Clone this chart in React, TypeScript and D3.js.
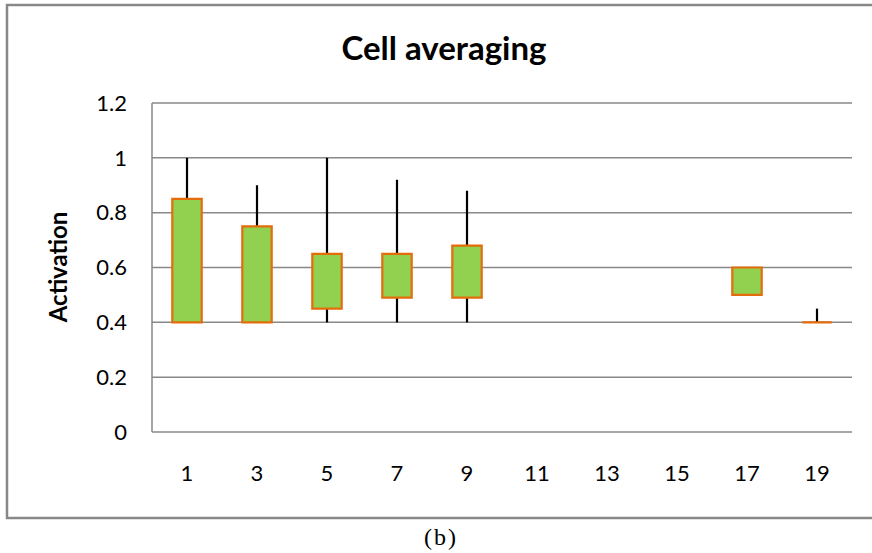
import React from 'react';
import * as d3 from 'd3';

// category labels along x
const categories = ['1', '3', '5', '7', '9', '11', '13', '15', '17', '19'];
// box bottom / top (null = no data)
const boxLow = [0.4, 0.4, 0.45, 0.49, 0.49, null, null, null, 0.5, 0.4];
const boxHigh = [0.85, 0.75, 0.65, 0.65, 0.68, null, null, null, 0.6, 0.4];
// whisker ends
const whiskerMin = [0.4, 0.4, 0.4, 0.4, 0.4, null, null, null, 0.5, 0.4];
const whiskerMax = [1.0, 0.9, 1.0, 0.92, 0.88, null, null, null, 0.6, 0.45];
const yTicks = [0, 0.2, 0.4, 0.6, 0.8, 1, 1.2];

const W = 872;
const H = 553;
const plot = { left: 152, right: 852, top: 103, bottom: 432 };
const sans = 'Lato, "Open Sans", sans-serif';

export default function App() {
  const x = d3
    .scaleBand()
    .domain(categories)
    .range([plot.left, plot.right])
    .padding(0);
  const y = d3.scaleLinear().domain([0, 1.2]).range([plot.bottom, plot.top]);
  const boxW = x.bandwidth() * 0.42;

  const rows = categories.map((c, i) => ({
    c,
    lo: boxLow[i],
    hi: boxHigh[i],
    min: whiskerMin[i],
    max: whiskerMax[i],
  }));

  return (
    <svg
      width={W}
      height={H}
      style={{ position: 'absolute', left: 0, top: 0, background: '#fff' }}
    >
      <rect x={7} y={5} width={880} height={513} fill="none" stroke="#888" strokeWidth={2.5} />

      <text x={444} y={60} textAnchor="middle" fontFamily={sans} fontWeight="bold" fontSize={33}>
        Cell averaging
      </text>

      {yTicks.map((t) => (
        <g key={t}>
          {t > 0 && (
            <line x1={plot.left} x2={plot.right} y1={y(t)} y2={y(t)} stroke="#888" strokeWidth={1.5} />
          )}
          <text
            x={127}
            y={y(t)}
            dy="0.35em"
            textAnchor="end"
            fontFamily={sans}
            fontSize={22}
            fill="#000"
          >
            {t}
          </text>
        </g>
      ))}

      <line x1={plot.left} x2={plot.left} y1={plot.top} y2={plot.bottom} stroke="#888" strokeWidth={1.5} />
      <line x1={plot.left} x2={plot.right} y1={plot.bottom} y2={plot.bottom} stroke="#888" strokeWidth={1.5} />

      {categories.map((c) => (
        <text
          key={c}
          x={(x(c) as number) + x.bandwidth() / 2}
          y={481}
          textAnchor="middle"
          fontFamily={sans}
          fontSize={22}
        >
          {c}
        </text>
      ))}

      <text
        transform={`translate(67,267) rotate(-90)`}
        textAnchor="middle"
        fontFamily={sans}
        fontWeight="bold"
        fontSize={24}
      >
        Activation
      </text>

      {rows
        .filter((r) => r.lo !== null)
        .map((r) => {
          const cx = (x(r.c) as number) + x.bandwidth() / 2;
          const top = y(r.hi as number);
          const h = y(r.lo as number) - top;
          return (
            <g key={r.c}>
              <line
                x1={cx}
                x2={cx}
                y1={y(r.max as number)}
                y2={y(r.min as number)}
                stroke="#000"
                strokeWidth={2.2}
              />
              <path
                d={`M${cx - boxW / 2},${top}h${boxW}v${h}h${-boxW}Z`}
                fill="#92D050"
                stroke="#E46C0A"
                strokeWidth={2.2}
              />
            </g>
          );
        })}

      <text
        x={441}
        y={545}
        textAnchor="middle"
        fontFamily='"Liberation Serif", serif'
        fontSize={24}
        letterSpacing={2}
      >
        (b)
      </text>
    </svg>
  );
}
